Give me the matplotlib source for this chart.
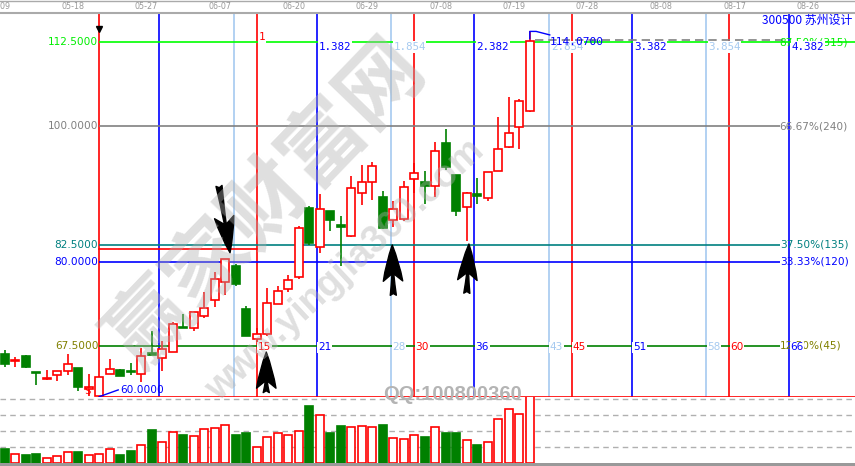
import matplotlib
matplotlib.use("Agg")
import matplotlib.pyplot as plt
from matplotlib.patches import Rectangle
from matplotlib.lines import Line2D
import matplotlib.transforms as mtrans

plt.rcParams['font.family'] = ['DejaVu Sans', 'Noto Sans CJK SC']

# ---- data ----
dates = ["05-09", "05-18", "05-27", "06-07", "06-20", "06-29",
         "07-08", "07-19", "07-28", "08-08", "08-17", "08-26"]
date_pos = [-0.5, 6.5, 13.5, 20.5, 27.5, 34.5, 41.5, 48.5, 55.5, 62.5, 69.5, 76.5]

opens = [66.32, 65.25, 66.02, 63.65, 62.62, 63.21, 63.80, 64.25, 61.14, 60.10,
         63.36, 63.95, 63.70, 63.36, 66.47, 65.73, 66.61, 70.32, 70.17, 71.94,
         74.31, 76.98, 79.34, 72.98, 68.54, 69.28, 73.72, 75.94, 77.72, 87.93,
         82.16, 87.49, 85.34, 83.79, 90.15, 91.78, 89.56, 86.15, 86.30, 92.22,
         91.78, 91.19, 97.55, 92.81, 88.08, 90.00, 89.41, 93.41, 96.96, 99.92,
         102.29]
highs = [66.91, 65.87, 66.17, 63.65, 63.95, 63.80, 66.32, 64.25, 63.36, 62.91,
         65.58, 64.10, 65.00, 67.21, 69.72, 68.24, 71.06, 72.24, 72.53, 75.50,
         78.46, 80.38, 79.64, 73.42, 70.17, 76.09, 76.38, 78.01, 85.27, 88.23,
         90.00, 87.49, 86.75, 92.67, 94.30, 94.74, 90.45, 88.97, 91.93, 94.59,
         93.41, 97.70, 99.62, 92.81, 90.30, 92.37, 93.26, 101.40, 104.36, 104.06,
         114.07]
lows = [64.39, 64.39, 64.30, 61.73, 62.47, 62.32, 63.21, 60.84, 60.10, 60.00,
        63.36, 63.06, 63.21, 62.17, 66.17, 63.80, 66.61, 70.17, 69.72, 71.65,
        73.28, 75.05, 76.38, 68.98, 68.10, 68.98, 73.72, 75.50, 77.42, 82.45,
        81.27, 84.52, 79.34, 83.64, 88.37, 89.11, 84.82, 85.12, 86.00, 90.15,
        88.52, 89.56, 93.55, 86.75, 83.04, 88.52, 88.97, 93.41, 96.81, 96.66,
        102.14]
closes = [64.84, 65.30, 64.39, 63.43, 62.70, 63.80, 64.84, 61.43, 61.43, 62.91,
          64.10, 63.06, 63.62, 66.02, 66.17, 67.06, 70.76, 70.17, 72.53, 73.13,
          77.42, 80.38, 76.68, 68.98, 69.28, 73.87, 75.64, 77.27, 84.97, 82.75,
          87.78, 86.15, 85.12, 90.89, 91.78, 94.15, 84.97, 87.78, 91.04, 93.11,
          91.19, 96.37, 94.00, 87.49, 90.15, 89.71, 93.26, 96.66, 99.03, 103.77,
          112.65]
volumes = [14, 9, 8, 9, 4.7, 6.7, 10.7, 11, 7.7, 8.7,
           13.7, 8, 12, 17.7, 33, 20.7, 30.7, 28, 26.7, 33.7,
           34.7, 37.7, 28, 30, 15.7, 25.7, 29.7, 27.7, 31.7, 57,
           47.7, 30, 37, 35.7, 36.7, 35.7, 38, 24.7, 23.7, 27.7,
           26, 35.7, 30, 30, 22.7, 18, 20.7, 43.7, 53.7, 48.7,
           70]
vol_grid = [16, 32, 48, 64]

# Gann price levels (60 -> 120 range)
levels = [112.5, 100.0, 82.5, 80.0, 67.5, 60.0]
level_text = ["112.5000", "100.0000", "82.5000", "80.0000", "67.5000", ""]
level_pct = ["87.50%(315)", "66.67%(240)", "37.50%(135)", "33.33%(120)", "12.50%(45)", ""]
level_line_colors = ["#00ff00", "#808080", "#008080", "#0000ff", "#008000", "#ff0000"]
level_text_colors = ["#00ee00", "#808080", "#008080", "#0000ff", "#808000", "#ff0000"]

# time lines, offsets (bars) from the start bar
start_bar = 9
red_offsets = [0, 15, 30, 45, 60]
red_top = ["", "1", "2", "3", "4"]
red_bottom = ["", "15", "30", "45", "60"]
blue_offsets = [5.73, 20.73, 35.73, 50.73, 65.73]
blue_top = ["", "1.382", "2.382", "3.382", "4.382"]
blue_bottom = ["", "21", "36", "51", "66"]
lblue_offsets = [12.81, 27.81, 42.81, 57.81]
lblue_top = ["", "1.854", "2.854", "3.854"]
lblue_bottom = ["", "28", "43", "58"]

red_hline = 81.85           # red level up to first cycle line
last_close_mark = 112.8
# arrows: (tail_x, tail_y, tip_x, tip_y)
arrows = [(20.4, 91.2, 21.45, 81.3),
          (24.9, 60.6, 24.9, 66.6),
          (37.0, 75.0, 36.9, 82.45),
          (44.0, 75.3, 44.2, 82.6)]

RED = "#ff0000"
GREEN = "#008000"
BLUE = "#0000ff"
LBLUE = "#a6caf0"

W, H = 855, 466
fig = plt.figure(figsize=(W / 100, H / 100), dpi=100)
ax = fig.add_axes([0, (H - 397) / H, 1, (397 - 13.5) / H])
axv = fig.add_axes([0, 3.5 / H, 1, (H - 397 - 3.5) / H])

xmin, xmax = -0.457, 80.97
ax.set_xlim(xmin, xmax)
ax.set_ylim(59.95, 116.72)
ax.axis("off")
axv.set_xlim(xmin, xmax)
axv.set_ylim(0, H - 397 - 3.5)
axv.axis("off")

pt = 0.72  # pixels -> points at 100 dpi

# horizontal levels
x_end = 73.8
for lv, lt, lp, lc, tc in zip(levels, level_text, level_pct, level_line_colors, level_text_colors):
    xe = xmax if lv == 112.5 or lv == 60.0 else x_end
    ax.plot([start_bar, xe], [lv, lv], color=lc, lw=1.2, zorder=2, solid_capstyle="butt")
    if lt:
        ax.annotate(lt, (start_bar, lv), xytext=(-1 * pt, 0), textcoords="offset points",
                    ha="right", va="center", color=tc, fontsize=7.6, zorder=5)
    if lp:
        ax.annotate(lp, (x_end, lv), xytext=(0, 0), textcoords="offset points",
                    ha="left", va="center", color=tc, fontsize=7.6, zorder=5)

ax.plot([start_bar, start_bar + 15], [red_hline, red_hline], color=RED, lw=1.2, zorder=2)
ax.plot([50.5, 74.5], [last_close_mark, last_close_mark], color="#808080", lw=1.2,
        ls=(0, (5, 3)), zorder=3)

# vertical time lines with labels
bbox = dict(facecolor="white", edgecolor="none", pad=0.5)
groups = [(red_offsets, red_top, red_bottom, RED),
          (blue_offsets, blue_top, blue_bottom, BLUE),
          (lblue_offsets, lblue_top, lblue_bottom, LBLUE)]
for offs, tops, bots, col in groups:
    for off, tl, bl in zip(offs, tops, bots):
        xv = start_bar + off
        ax.axvline(xv, color=col, lw=1.2, zorder=1)
        if tl:
            dy = 5 if tl == "1" else -5
            ax.annotate(tl, (xv, 112.5), xytext=(2 * pt, dy * pt), textcoords="offset points",
                        ha="left", va="center", color=col, fontsize=7.8,
                        family="DejaVu Sans Mono", bbox=bbox, zorder=6)
        if bl:
            ax.annotate(bl, (xv, 67.5), xytext=(1 * pt, -1.5 * pt), textcoords="offset points",
                        ha="left", va="center", color=col, fontsize=7.6, bbox=bbox, zorder=6)

ax.plot([start_bar], [114.42], marker="v", color="black", ms=4.5, zorder=6)

# candles
for i, (o, h, l, c) in enumerate(zip(opens, highs, lows, closes)):
    up = c >= o
    col = RED if up else GREEN
    ax.plot([i, i], [l, h], color=col, lw=1.2, zorder=7, solid_capstyle="butt")
    bottom = min(o, c)
    height = max(abs(c - o), 0.12)
    ax.add_patch(Rectangle((i - 0.38, bottom), 0.76, height,
                           facecolor="white" if up else GREEN, edgecolor=col,
                           lw=1.2, zorder=8))

# low / high annotations
ax.plot([start_bar, start_bar + 1.8], [60.0, 61.0], color=BLUE, lw=1, zorder=8)
ax.text(start_bar + 1.95, 61.0, "60.0000", color=BLUE, fontsize=7.6, ha="left",
        va="center", zorder=9)
ax.text(7.9, 60.9, "$", color=RED, fontsize=7.5, ha="center", va="center", zorder=9)
ax.plot([50, 50, 50.6, 51.9], [113.0, 114.07, 114.07, 113.55], color=BLUE, lw=1, zorder=9)
ax.text(51.9, 112.5, "114.0700", color=BLUE, fontsize=8, ha="left", va="center",
        family="DejaVu Sans Mono", zorder=9)

for tx, ty, hx, hy in arrows:
    ax.annotate("", xy=(hx, hy), xytext=(tx, ty),
                arrowprops=dict(arrowstyle="fancy,head_length=1.3,head_width=0.7,tail_width=0.22",
                                fc="black", ec="black", mutation_scale=20,
                                shrinkA=0, shrinkB=0), zorder=9)

# volume panel
for g in vol_grid:
    axv.axhline(g, color="#b0b0b0", lw=1, ls=(0, (4, 3)), zorder=0)
for i, (o, c, v) in enumerate(zip(opens, closes, volumes)):
    up = c >= o
    col = RED if up else GREEN
    axv.bar(i, v, width=0.76, facecolor="white" if up else GREEN, edgecolor=col,
            lw=1.2, zorder=2)

# date strip at top
trans = mtrans.blended_transform_factory(ax.transData, fig.transFigure)
for d, p in zip(dates, date_pos):
    fig.text(p, 1 - 6.5 / H, d, transform=trans, ha="center", va="center",
             fontsize=5.8, color="#999999")
fig.add_artist(Line2D([0, 1], [1 - 0.5 / H] * 2, color="#aaaaaa", lw=1, transform=fig.transFigure))
fig.add_artist(Line2D([0, 1], [1 - 13 / H] * 2, color="#aaaaaa", lw=1.5, transform=fig.transFigure))
fig.add_artist(Rectangle((0, 0), 1, 3.5 / H, transform=fig.transFigure,
                         facecolor="#999999", edgecolor="none"))

fig.text(852 / W, 1 - 20 / H, "300500 苏州设计", ha="right", va="center",
         color=BLUE, fontsize=8.6, family=["Noto Sans CJK SC", "DejaVu Sans"])

# watermark
fig.text(267 / W, 1 - 205 / H, "赢家财富网", rotation=46, rotation_mode="anchor",
         ha="center", va="center", fontsize=60, fontweight="bold",
         family=["Noto Sans CJK SC"], color="#b0b0b0", alpha=0.4, zorder=20)
fig.text(345 / W, 1 - 270 / H, "www.yingjia360.com", rotation=43, rotation_mode="anchor",
         ha="center", va="center", fontsize=27, fontweight="bold",
         family=["Liberation Sans", "DejaVu Sans"], color="#b0b0b0", alpha=0.4, zorder=20)
fig.text(452 / W, 1 - 395 / H, "QQ:100800360", ha="center", va="center",
         fontsize=14.5, fontweight="bold", family=["Liberation Sans", "DejaVu Sans"],
         color="#b4b4b4", zorder=20)

fig.savefig("out.png", dpi=100)
